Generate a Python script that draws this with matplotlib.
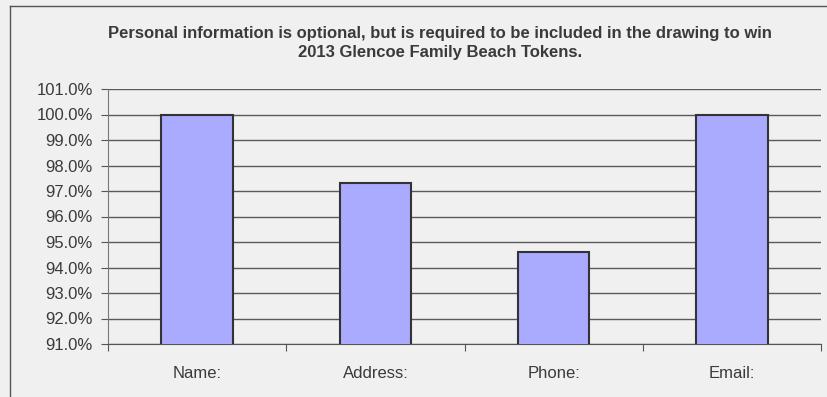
import matplotlib.pyplot as plt
from matplotlib.lines import Line2D
from matplotlib.ticker import FuncFormatter
import numpy as np

categories = ['Name:', 'Address:', 'Phone:', 'Email:']
values = [100.0, 97.3, 94.6, 100.0]
title = ('Personal information is optional, but is required to be included in the drawing to win\n'
         '2013 Glencoe Family Beach Tokens.')

plt.rcParams['font.family'] = ['Liberation Sans', 'DejaVu Sans']
bg = '#f0f0f0'
text_col = '#3a3a3a'
grid_col = '#5a5a5a'

W, H = 828, 397
fig = plt.figure(figsize=(W / 100, H / 100), dpi=100, facecolor=bg)

# chart frame: only the top and left edges fall inside the image
fig.add_artist(Line2D([9.5 / W, 1.0], [1 - 5.5 / H, 1 - 5.5 / H], transform=fig.transFigure,
                      color='#555555', linewidth=1.0))
fig.add_artist(Line2D([9.5 / W, 9.5 / W], [0.0, 1 - 5.5 / H], transform=fig.transFigure,
                      color='#555555', linewidth=1.0))

ax = fig.add_axes([108 / W, 1 - 344 / H, (821 - 108) / W, (344 - 89) / H])
ax.set_facecolor(bg)

x = np.arange(len(categories))
ax.bar(x, values, width=0.4, bottom=0, color='#aaaaff', edgecolor='#333333',
       linewidth=1.5, zorder=3)

ax.set_xlim(-0.5, len(categories) - 0.5)
ax.set_ylim(91, 101)
ax.set_yticks(np.arange(91, 101.5, 1))
ax.yaxis.set_major_formatter(FuncFormatter(lambda v, p: f'{v:.1f}%'))
ax.yaxis.grid(True, color=grid_col, linewidth=1.0, zorder=1)

# category labels sit between boundary ticks
ax.set_xticks(np.arange(-0.5, len(categories), 1.0))
ax.set_xticklabels([])
ax.set_xticks(x, minor=True)
ax.set_xticklabels(categories, minor=True)
ax.tick_params(axis='x', which='minor', length=0, pad=16, labelsize=12, labelcolor=text_col)
ax.tick_params(axis='x', which='major', length=5, direction='out', color='#555555')
ax.tick_params(axis='y', length=5, direction='out', color='#555555', labelsize=12,
               labelcolor=text_col, pad=6)

for s in ['top', 'right']:
    ax.spines[s].set_visible(False)
ax.spines['left'].set_color('#777777')
ax.spines['bottom'].set_color('#555555')

fig.text(440 / W, 1 - 43 / H, title, ha='center', va='center', fontsize=12,
         fontweight='bold', color=text_col, linespacing=1.3)

fig.savefig('out.png', dpi=100, facecolor=bg)
